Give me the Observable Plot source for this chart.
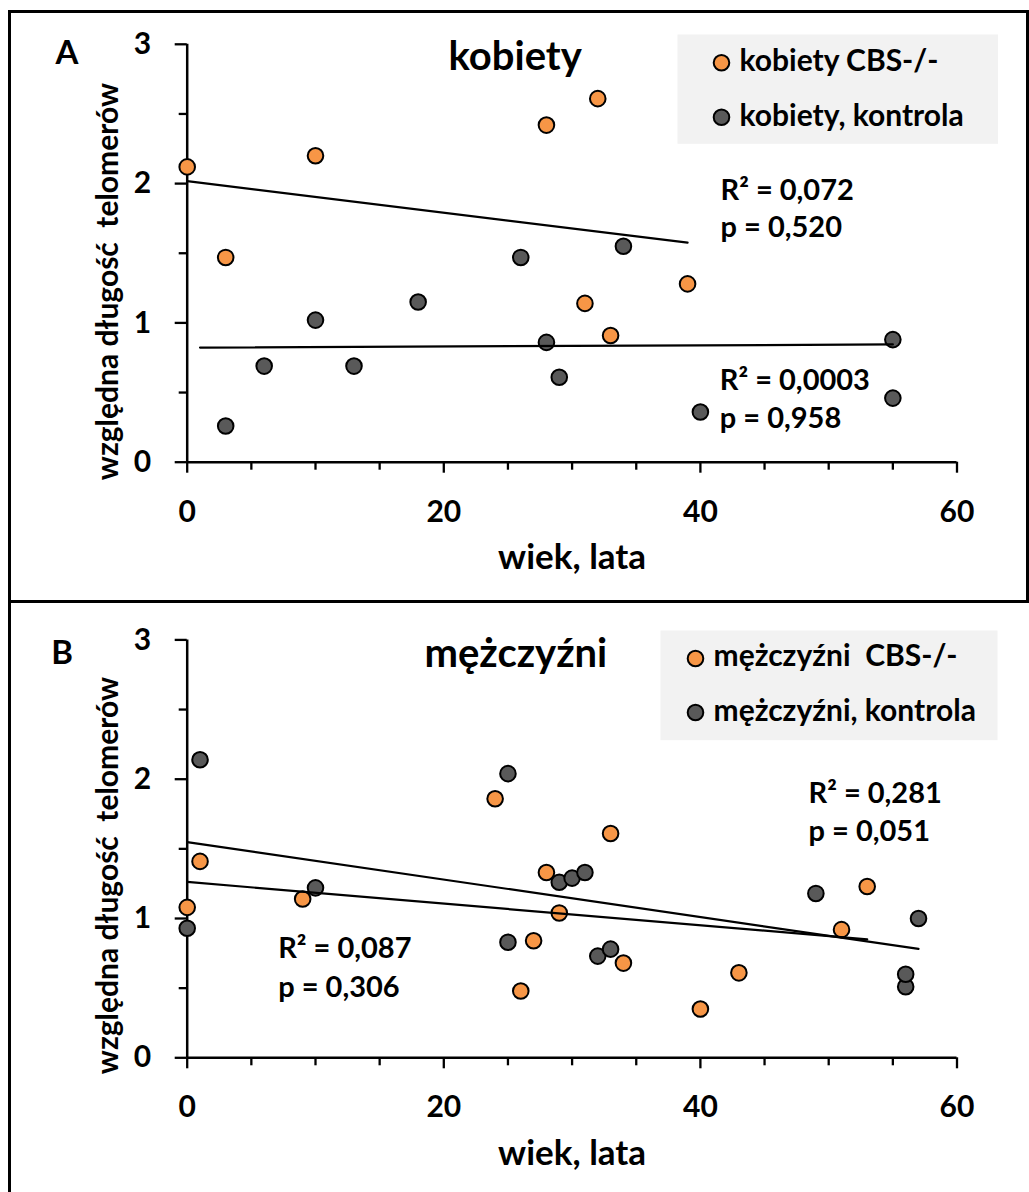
<!DOCTYPE html>
<html>
<head>
<meta charset="utf-8">
<script src="https://cdn.jsdelivr.net/npm/d3@7"></script>
<script src="https://cdn.jsdelivr.net/npm/@observablehq/plot@0.6"></script>
<style>
  body { margin: 0; background: #fff; }
  #wrap { position: relative; width: 1029px; height: 1192px; overflow: hidden; background: #fff; }
  .panel { position: absolute; left: 0; }
  .bline { position: absolute; background: #000; }
</style>
</head>
<body>
<div id="wrap">
  <div id="pA" class="panel" style="top:0px"></div>
  <div id="pB" class="panel" style="top:600px"></div>
  <div class="bline" style="left:8px;top:10px;width:3px;height:1182px"></div>
  <div class="bline" style="left:8px;top:10px;width:1021px;height:3px"></div>
  <div class="bline" style="left:8px;top:600px;width:1021px;height:3px"></div>
  <div class="bline" style="left:1026px;top:10px;width:3px;height:590px"></div>
</div>
<script>
// ---------------- DATA ----------------
// Panel A – kobiety (women)
const ageA_cbs  = [0, 3, 10, 28, 31, 32, 33, 39];
const tlA_cbs   = [2.12, 1.47, 2.20, 2.42, 1.14, 2.61, 0.91, 1.28];
const ageA_ctrl = [3, 6, 10, 13, 18, 26, 28, 29, 34, 40, 55, 55];
const tlA_ctrl  = [0.26, 0.69, 1.02, 0.69, 1.15, 1.47, 0.86, 0.61, 1.55, 0.36, 0.88, 0.46];
// Panel B – mężczyźni (men)
const ageB_cbs  = [0, 1, 9, 24, 26, 27, 28, 29, 33, 34, 40, 43, 51, 53];
const tlB_cbs   = [1.08, 1.41, 1.14, 1.86, 0.48, 0.84, 1.33, 1.04, 1.61, 0.68, 0.35, 0.61, 0.92, 1.23];
const ageB_ctrl = [0, 1, 10, 25, 25, 29, 30, 31, 32, 33, 49, 56, 56, 57];
const tlB_ctrl  = [0.93, 2.14, 1.22, 2.04, 0.83, 1.26, 1.29, 1.33, 0.73, 0.78, 1.18, 0.51, 0.60, 1.00];
// trend-line age ranges as drawn in the picture
const spanA_cbs  = [0, 39];
const spanA_ctrl = [1, 55];
const spanB_cbs  = [0, 53];
const spanB_ctrl = [0, 57];
// texts
const titles   = ["kobiety", "mężczyźni"];
const letters  = ["A", "B"];
const legendA  = ["kobiety CBS-/-", "kobiety, kontrola"];
const legendB  = ["mężczyźni  CBS-/-", "mężczyźni, kontrola"];
const statsA   = ["R² = 0,072", "p = 0,520", "R² = 0,0003", "p = 0,958"];
const statsB   = ["R² = 0,281", "p = 0,051", "R² = 0,087", "p = 0,306"];
const xTitle   = "wiek, lata";
const yTitle   = "względna długość  telomerów";
const yTicks   = [0, 1, 2, 3];
const yMinor   = [0.5, 1.5, 2.5];
const xTicks   = [0, 20, 40, 60];
const xMinor   = [5, 10, 15, 25, 30, 35, 45, 50, 55];

// ---------------- helpers ----------------
const ORANGE = "#F79646", GRAY = "#595959";
const rows = (ages, vals) => ages.map((a, i) => ({age: a, tl: vals[i]}));
function fitLine(ages, vals, span) {
  const mx = d3.mean(ages), my = d3.mean(vals);
  const b = d3.sum(ages, (x, i) => (x - mx) * (vals[i] - my)) / d3.sum(ages, x => (x - mx) ** 2);
  const a = my - b * mx;
  return span.map(x => ({age: x, tl: a + b * x}));
}

function panel(cfg) {
  const W = 1029, mL = 186.7, mR = 72.5;
  const {H, mT, mB} = cfg;
  const at = (x, y) => ({frameAnchor: "top-left", dx: x - mL, dy: y - mT});
  const txt = (s, x, y, size, extra = {}) =>
    Plot.text([s], {...at(x, y), text: d => d, lineAnchor: "bottom", textAnchor: "start",
                    fontSize: size, fontWeight: 700, fill: "black", ...extra});
  const lg = cfg.legend;
  return Plot.plot({
    width: W, height: H,
    marginLeft: mL, marginRight: mR, marginTop: mT, marginBottom: mB,
    x: {domain: [0, 60], label: null},
    y: {domain: [0, 3], label: null},
    style: {fontFamily: "Lato, sans-serif", fontWeight: "bold", fontSize: "30px", color: "black",
            background: "white", overflow: "visible"},
    marks: [
      // legend box
      Plot.frame({fill: "#f2f2f2", stroke: "none",
        insetLeft: lg.box[0] - mL, insetTop: lg.box[1] - mT,
        insetRight: (W - mR) - lg.box[2], insetBottom: (H - mB) - lg.box[3]}),
      // axes
      Plot.axisY({ticks: yMinor, tickSize: 8, tickFormat: () => "", label: null, strokeWidth: 2.3}),
      Plot.axisY({ticks: yTicks, tickSize: 12, tickPadding: 24, tickFormat: d => String(d), label: null,
                  strokeWidth: 2.3, fontSize: 30, fontWeight: 700}),
      Plot.axisX({ticks: xMinor, tickSize: 8, tickFormat: () => "", label: null, strokeWidth: 2.3}),
      Plot.axisX({ticks: xTicks, tickSize: 11, tickPadding: 27, tickFormat: d => String(d), label: null,
                  strokeWidth: 2.3, fontSize: 30, fontWeight: 700}),
      Plot.ruleX([0], {y1: 0, y2: 3, stroke: "black", strokeWidth: 2.5}),
      Plot.ruleY([0], {x1: 0, x2: 60, stroke: "black", strokeWidth: 2.5}),
      // data
      Plot.dot(cfg.cbs, {x: "age", y: "tl", r: 7.8, fill: ORANGE, stroke: "black", strokeWidth: 2}),
      Plot.dot(cfg.ctrl, {x: "age", y: "tl", r: 7.8, fill: GRAY, stroke: "black", strokeWidth: 2}),
      Plot.line(cfg.fitCbs, {x: "age", y: "tl", stroke: "black", strokeWidth: 2.2}),
      Plot.line(cfg.fitCtrl, {x: "age", y: "tl", stroke: "black", strokeWidth: 2.2}),
      // axis titles
      Plot.text([xTitle], {frameAnchor: "bottom", dy: cfg.xTitleBase - (H - mB), lineAnchor: "bottom",
                           textAnchor: "middle", text: d => d, fontSize: 35, fontWeight: 700, fill: "black"}),
      Plot.text([yTitle], {frameAnchor: "left", rotate: -90, dx: -79, dy: cfg.yTitleDy,
                           textAnchor: "middle", lineAnchor: "middle",
                           text: d => d, fontSize: 30, fontWeight: 700, fill: "black"}),
      // letter and title
      txt(cfg.letter, cfg.letterPos[0], cfg.letterPos[1], 33),
      txt(cfg.title, cfg.titlePos[0], cfg.titlePos[1], 40),
      // legend
      Plot.dot([0], {...at(lg.dotX, lg.dotY[0]), r: 7.8, fill: ORANGE, stroke: "black", strokeWidth: 2}),
      Plot.dot([0], {...at(lg.dotX, lg.dotY[1]), r: 7.8, fill: GRAY, stroke: "black", strokeWidth: 2}),
      txt(cfg.legendText[0], lg.textX, lg.textY[0], 30),
      txt(cfg.legendText[1], lg.textX, lg.textY[1], 30),
      // statistics
      ...cfg.stats.map((s, i) => txt(s, cfg.statPos[i][0], cfg.statPos[i][1], 29))
    ]
  });
}

const A = panel({
  H: 600, mT: 43.8, mB: 138.3,
  cbs: rows(ageA_cbs, tlA_cbs), ctrl: rows(ageA_ctrl, tlA_ctrl),
  fitCbs: fitLine(ageA_cbs, tlA_cbs, spanA_cbs), fitCtrl: fitLine(ageA_ctrl, tlA_ctrl, spanA_ctrl),
  letter: letters[0], letterPos: [55, 63.3],
  title: titles[0], titlePos: [448, 69],
  legend: {box: [677, 34, 997.5, 143.3], dotX: 721, dotY: [62.3, 116.7], textX: 739, textY: [70.7, 125]},
  legendText: legendA,
  stats: statsA, statPos: [[720, 199], [720, 236.7], [719.3, 389.3], [719.3, 427.3]],
  xTitleBase: 568.5, yTitleDy: 28.3
});
const B = panel({
  H: 592, mT: 39.4, mB: 134.7,
  cbs: rows(ageB_cbs, tlB_cbs), ctrl: rows(ageB_ctrl, tlB_ctrl),
  fitCbs: fitLine(ageB_cbs, tlB_cbs, spanB_cbs), fitCtrl: fitLine(ageB_ctrl, tlB_ctrl, spanB_ctrl),
  letter: letters[1], letterPos: [50.7, 63.3],
  title: titles[1], titlePos: [424, 66],
  legend: {box: [660, 30, 997, 139.7], dotX: 695, dotY: [58, 112], textX: 713, textY: [65, 120]},
  legendText: legendB,
  stats: statsB, statPos: [[808, 202.3], [808, 240.7], [277.7, 357.7], [277.7, 396.7]],
  xTitleBase: 564, yTitleDy: 26.7
});
document.getElementById("pA").appendChild(A);
document.getElementById("pB").appendChild(B);
</script>
</body>
</html>
